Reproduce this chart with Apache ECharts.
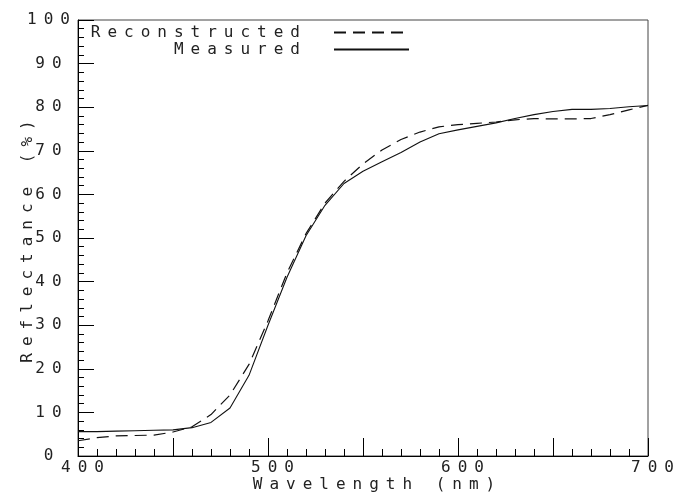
<!DOCTYPE html>
<html>
	<head>
		<title>Reflectance</title>
		<script src="https://cdn.jsdelivr.net/npm/echarts@6/dist/echarts.min.js"></script>
	</head>
	<body style="margin:0;padding:0;background:#fff">
		<div id="chart" style="width: 677px;height:501px;"></div>
	</body>
	<script type="text/javascript">
var wavelengths = [400, 410, 420, 430, 440, 450, 460, 470, 480, 490, 500, 510, 520, 530, 540, 550,
    560, 570, 580, 590, 600, 610, 620, 630, 640, 650, 660, 670, 680, 690, 700];
var measured = [5.6, 5.6, 5.7, 5.8, 5.9, 6.0, 6.5, 7.7, 11.0, 18.5, 30.0, 41.0, 50.5, 57.5, 62.5, 65.3,
    67.5, 69.6, 72.0, 73.9, 74.8, 75.6, 76.4, 77.4, 78.3, 79.0, 79.5, 79.5, 79.7, 80.1, 80.4];
var reconstructed = [3.5, 4.2, 4.6, 4.7, 4.8, 5.5, 6.7, 9.5, 14.0, 21.0, 31.0, 42.0, 51.0, 58.0, 63.0, 67.0,
    70.2, 72.6, 74.3, 75.5, 76.0, 76.3, 76.6, 77.1, 77.4, 77.3, 77.3, 77.4, 78.3, 79.4, 80.4];
var yTicks = [0, 100, 10];   // min, max, step
var xTicks = [400, 700, 50];

function pairs(ys) {
    return wavelengths.map(function(w, i) { return [w, ys[i]]; });
}

// the old plotter font is very wide; space the letters only when drawing
var fillText = CanvasRenderingContext2D.prototype.fillText;
CanvasRenderingContext2D.prototype.fillText = function(t, x, y, w) {
    this.letterSpacing = '7px';
    if (w === undefined) fillText.call(this, t, x, y);
    else fillText.call(this, t, x, y, w);
    this.letterSpacing = '0px';
};

var font = 'DejaVu Sans Mono';
var ink = '#222';
var txt = { fontFamily: font, fontSize: 16, lineHeight: 16, color: ink };

var chart = echarts.init(document.getElementById('chart'));

function legendAt(name, top) {
    return {
        orient: 'vertical',
        right: 267,
        top: top,
        padding: 0,
        itemWidth: 75,
        itemHeight: 14,
        align: 'right',
        selectedMode: false,
        data: [name],
        itemStyle: { opacity: 0 },
        textStyle: Object.assign({ padding: [0, 22, 0, 0] }, txt)
    };
}

var option = {
    backgroundColor: '#fff',
    animation: false,
    grid: {
        left: 78,
        right: 29,
        top: 20,
        bottom: 45,
        containLabel: false,
        outerBoundsMode: 'none',
        show: true,
        borderColor: '#444',
        borderWidth: 1
    },
    legend: [legendAt('Reconstructed', 18), legendAt('Measured', 35)],
    xAxis: [{
        type: 'value',
        min: xTicks[0],
        max: xTicks[1],
        interval: xTicks[2],
        name: 'Wavelength (nm)',
        nameLocation: 'middle',
        nameGap: 21,
        nameMoveOverlap: false,
        nameTextStyle: Object.assign({ padding: [0, 0, 0, 29] }, txt),
        axisLine: { lineStyle: { color: '#000', width: 1 } },
        axisTick: { show: false },
        splitLine: { show: false },
        axisLabel: Object.assign({
            margin: 4,
            padding: [0, 0, 0, 16],
            formatter: function(v) { return v % 100 === 0 ? String(v) : ''; }
        }, txt)
    }, {
        // ticks only, same scale as the axis above
        type: 'value',
        position: 'bottom',
        min: xTicks[0],
        max: xTicks[1],
        interval: xTicks[2],
        axisLine: { show: false },
        axisLabel: { show: false },
        splitLine: { show: false },
        axisTick: { show: true, inside: true, length: 18, lineStyle: { color: '#000', width: 1 } },
        minorTick: { show: true, splitNumber: 5, length: 7, lineStyle: { color: '#000', width: 1 } }
    }],
    yAxis: [{
        type: 'value',
        min: yTicks[0],
        max: yTicks[1],
        interval: yTicks[2],
        name: 'Reflectance (%)',
        nameLocation: 'middle',
        nameGap: 42,
        nameMoveOverlap: false,
        nameTextStyle: txt,
        axisLine: { show: true, lineStyle: { color: '#000', width: 1 } },
        axisTick: { show: true, inside: true, length: 16, lineStyle: { color: '#000', width: 1 } },
        minorTick: { show: true, splitNumber: 5, length: 6, lineStyle: { color: '#000', width: 1 } },
        splitLine: { show: false },
        axisLabel: Object.assign({
            align: 'center',
            margin: 26,
            hideOverlap: false,
            showMinLabel: true,
            showMaxLabel: true
        }, txt)
    }, {
        // ticks only, moved over from the right edge onto the left axis
        type: 'value',
        position: 'right',
        offset: -570,
        min: yTicks[0],
        max: yTicks[1],
        interval: yTicks[2],
        axisLine: { show: false },
        axisLabel: { show: false },
        splitLine: { show: false },
        axisTick: { show: true, inside: false, length: 16, lineStyle: { color: '#000', width: 1 } },
        minorTick: { show: true, splitNumber: 5, length: 6, lineStyle: { color: '#000', width: 1 } }
    }],
    series: [{
        name: 'Reconstructed',
        type: 'line',
        data: pairs(reconstructed),
        symbol: 'none',
        lineStyle: { color: '#111', width: 1.2, type: [12, 7] },
        itemStyle: { color: '#111' }
    }, {
        name: 'Measured',
        type: 'line',
        data: pairs(measured),
        symbol: 'none',
        lineStyle: { color: '#111', width: 1.1, type: 'solid' },
        itemStyle: { color: '#111' }
    }]
};

chart.setOption(option);
	</script>
</html>
